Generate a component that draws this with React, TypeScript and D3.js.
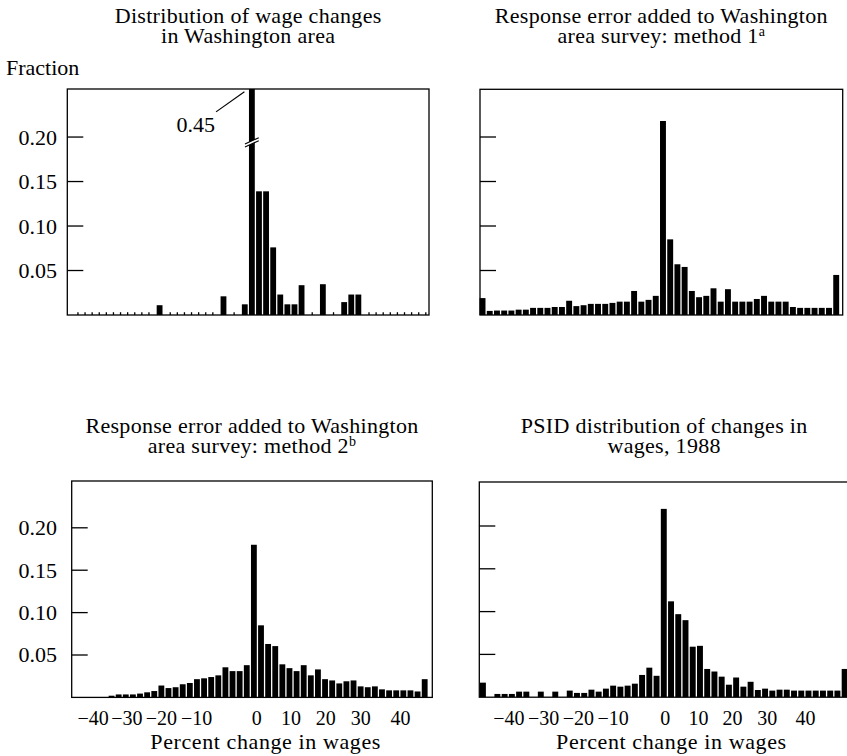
import React from 'react';
import * as d3 from 'd3';

const W = 847;
const H = 756;

// Bin centres in percent change (2-point bins)
const centers50 = d3.range(-50, 50, 2); // -50 .. 48
const centers51 = d3.range(-50, 52, 2); // -50 .. 50

// Panel 1: Distribution of wage changes in Washington area
const washingtonValues = [
  0, 0, 0, 0, 0, 0, 0, 0, 0, 0, 0, 0, // -50 .. -28
  0.011, // -26
  0, 0, 0, 0, 0, 0, 0, 0, // -24 .. -10
  0.021, // -8
  0, 0, // -6, -4
  0.012, // -2
  0.45, // 0
  0.139, 0.139, 0.076, 0.023, 0.012, 0.012, 0.0335, // 2 .. 14
  0, 0, // 16, 18
  0.0346, // 20
  0, 0, // 22, 24
  0.0145, 0.023, 0.023, // 26 .. 30
  0, 0, 0, 0, 0, 0, 0, 0, 0, // 32 .. 48
];

// Panel 2: Response error added: method 1
const method1Values = [
  0.019, 0.0046, 0.005, 0.005, 0.005, 0.006, 0.006, 0.008, 0.008, 0.008,
  0.009, 0.009, 0.016, 0.010, 0.011, 0.0125, 0.0125, 0.0125, 0.0136, 0.015,
  0.015, 0.027, 0.015, 0.017, 0.0215, 0.218, 0.085, 0.057, 0.054, 0.027,
  0.020, 0.0215, 0.030, 0.015, 0.029, 0.015, 0.015, 0.015, 0.018, 0.0215,
  0.015, 0.015, 0.015, 0.009, 0.008, 0.008, 0.008, 0.008, 0.008, 0.045,
];

// Panel 3: Response error added: method 2
const method2Values = [
  0, 0, 0, 0, 0,
  0.002, 0.0035, 0.0035, 0.0035, 0.0045, 0.006, 0.0075, 0.014, 0.011, 0.012,
  0.0155, 0.017, 0.0215, 0.0225, 0.024, 0.026, 0.0355, 0.031, 0.031, 0.038,
  0.180, 0.085, 0.063, 0.0605, 0.039, 0.0345, 0.031, 0.038, 0.026, 0.033,
  0.0215, 0.020, 0.0165, 0.019, 0.020, 0.013, 0.012, 0.013, 0.0095, 0.0083,
  0.0083, 0.0083, 0.0083, 0.007, 0.0215,
];

// Panel 4: PSID distribution of changes in wages, 1988
const psidValues = [
  0.017, 0, 0.0038, 0.0038, 0.0038, 0.0065, 0.0065, 0, 0.0065, 0,
  0.0065, 0, 0.0077, 0.005, 0.005, 0.0088, 0.0065, 0.010, 0.0135, 0.0123,
  0.0135, 0.0158, 0.026, 0.0345, 0.025,
  0.22, 0.112, 0.097, 0.090, 0.059, 0.060, 0.033, 0.030, 0.024, 0.0146,
  0.023, 0.0123, 0.018, 0.0084, 0.010, 0.0077, 0.0088, 0.0088, 0.0077, 0.0077,
  0.0077, 0.0077, 0.0077, 0.0077, 0.0077, 0.033,
];

const yTickValues = [0.05, 0.1, 0.15, 0.2];
const yTickLabels = ['0.05', '0.10', '0.15', '0.20'];

const xTickLabels = ['\u221240', '\u221230', '\u221220', '\u221210', '0', '10', '20', '30', '40'];
const xTickPosMethod2 = [-45.2, -35.7, -26.0, -16.1, 0.8, 10.4, 20.2, 30.0, 41.2];
const xTickPosPsid = [-42.8, -33.2, -23.6, -14.0, 0.4, 9.6, 19.0, 28.6, 39.2];

const titles1 = ['Distribution of wage changes', 'in Washington area'];
const titles2 = ['Response error added to Washington', 'area survey: method 1'];
const titles3 = ['Response error added to Washington', 'area survey: method 2'];
const titles4 = ['PSID distribution of changes in', 'wages, 1988'];

const xAxisTitle = 'Percent change in wages';
const yAxisTitle = 'Fraction';

const BAR_HALF = 0.82;

type PanelSpec = {
  key: string;
  centers: number[];
  values: number[];
  titles: string[];
  sup?: string;
  left: number;
  right: number;
  top: number;
  bottom: number;
  xDomain: [number, number];
  yMax: number;
  titleY: number;
  yLabels: boolean;
  xTickPos?: number[];
  xTitleAt?: number;
  stubs?: boolean;
  spikeBreak?: boolean;
};

const panels: PanelSpec[] = [
  {
    key: 'p1', centers: centers50, values: washingtonValues, titles: titles1,
    left: 67.3, right: 429, top: 89, bottom: 315, xDomain: [-52, 49.9], yMax: 0.254,
    titleY: 23, yLabels: true, stubs: true, spikeBreak: true,
  },
  {
    key: 'p2', centers: centers50, values: method1Values, titles: titles2, sup: 'a',
    left: 480, right: 842.7, top: 89.3, bottom: 315, xDomain: [-50.7, 49.8], yMax: 0.2536,
    titleY: 23, yLabels: false,
  },
  {
    key: 'p3', centers: centers50, values: method2Values, titles: titles3, sup: 'b',
    left: 71.7, right: 432.3, top: 481, bottom: 697.4, xDomain: [-51.2, 50.14], yMax: 0.2552,
    titleY: 433, yLabels: true, xTickPos: xTickPosMethod2, xTitleAt: 3.3,
  },
  {
    key: 'p4', centers: centers51, values: psidValues, titles: titles4,
    left: 479.3, right: 849, top: 482, bottom: 697.2, xDomain: [-51, 51.2], yMax: 0.2514,
    titleY: 433, yLabels: false, xTickPos: xTickPosPsid, xTitleAt: 2.1,
  },
];

function Panel({ p }: { p: PanelSpec }) {
  const x = d3.scaleLinear().domain(p.xDomain).range([p.left, p.right]);
  const y = d3.scaleLinear().domain([0, p.yMax]).range([p.bottom, p.top]);
  const cx = (p.left + p.right) / 2;

  const bars = p.values.map((v, i) => {
    if (v <= 0) return null;
    const c = p.centers[i];
    const top = y(Math.min(v, p.yMax));
    const x0 = x(c - BAR_HALF);
    const x1 = x(c + BAR_HALF);
    return <rect key={'b' + i} x={x0} y={top} width={x1 - x0} height={p.bottom - top} fill="#000" />;
  });

  const stubs: React.ReactNode[] = [];
  if (p.stubs) {
    p.values.forEach((v, i) => {
      const next = i + 1 < p.values.length ? p.values[i + 1] : 0;
      if (v === 0 && next === 0) {
        const sx = x(p.centers[i] + 1);
        stubs.push(<line key={'s' + i} x1={sx} x2={sx} y1={p.bottom} y2={p.bottom - 2.8} stroke="#000" strokeWidth={1.3} />);
      }
    });
  }

  let spike: React.ReactNode = null;
  if (p.spikeBreak) {
    const iMax = d3.maxIndex(p.values);
    const c = p.centers[iMax];
    const bx0 = x(c - BAR_HALF) - 4;
    const bx1 = x(c + BAR_HALF) + 4;
    const by = y(0.194);
    const s = 3.2;
    const gap = 3.0;
    spike = (
      <g>
        <polygon points={`${bx0},${by + s + gap / 2} ${bx1},${by - s + gap / 2} ${bx1},${by - s - gap / 2} ${bx0},${by + s - gap / 2}`} fill="#fff" />
        <line x1={bx0} y1={by + s + gap / 2} x2={bx1} y2={by - s + gap / 2} stroke="#000" strokeWidth={1.1} />
        <line x1={bx0} y1={by + s - gap / 2} x2={bx1} y2={by - s - gap / 2} stroke="#000" strokeWidth={1.1} />
        <line x1={x(-10.1)} y1={y(0.2283)} x2={x(-2.1)} y2={y(0.2508)} stroke="#000" strokeWidth={1.2} />
        <text x={x(-10.4)} y={y(0.2056)} textAnchor="end">{d3.format('.2f')(p.values[iMax])}</text>
      </g>
    );
  }

  return (
    <g>
      <text x={cx} y={p.titleY} textAnchor="middle" letterSpacing={0.3}>
        {p.titles.map((t, k) => (
          <tspan key={'t' + k} x={cx} dy={k === 0 ? 0 : 20}>
            {t}
            {k === p.titles.length - 1 && p.sup ? (
              <tspan fontSize={14} dy={-7}>{p.sup}</tspan>
            ) : null}
          </tspan>
        ))}
      </text>
      {bars}
      {stubs}
      {spike}
      <rect x={p.left} y={p.top} width={p.right - p.left} height={p.bottom - p.top} fill="none" stroke="#000" strokeWidth={1.3} />
      {yTickValues.map((tv, k) => (
        <g key={'y' + k}>
          <line x1={p.left} x2={p.left + 16} y1={y(tv)} y2={y(tv)} stroke="#000" strokeWidth={1.3} />
          {p.yLabels ? (
            <text x={57} y={y(tv)} dy="0.34em" textAnchor="end">{yTickLabels[k]}</text>
          ) : null}
        </g>
      ))}
      {p.xTickPos
        ? p.xTickPos.map((pos, k) => (
            <text key={'x' + k} x={x(pos)} y={p.bottom + 28} textAnchor="middle" fontSize={20}>{xTickLabels[k]}</text>
          ))
        : null}
      {p.xTitleAt !== undefined ? (
        <text x={x(p.xTitleAt)} y={749} textAnchor="middle" letterSpacing={0.6}>{xAxisTitle}</text>
      ) : null}
    </g>
  );
}

export default function App() {
  return (
    <svg
      width={W}
      height={H}
      style={{ position: 'absolute', left: 0, top: 0, display: 'block' }}
      fontFamily="'Liberation Serif', 'Times New Roman', serif"
      fontSize={22}
      fill="#000"
    >
      <rect width={W} height={H} fill="#fff" />
      <text x={6} y={75}>{yAxisTitle}</text>
      {panels.map((p) => (
        <Panel key={p.key} p={p} />
      ))}
    </svg>
  );
}
